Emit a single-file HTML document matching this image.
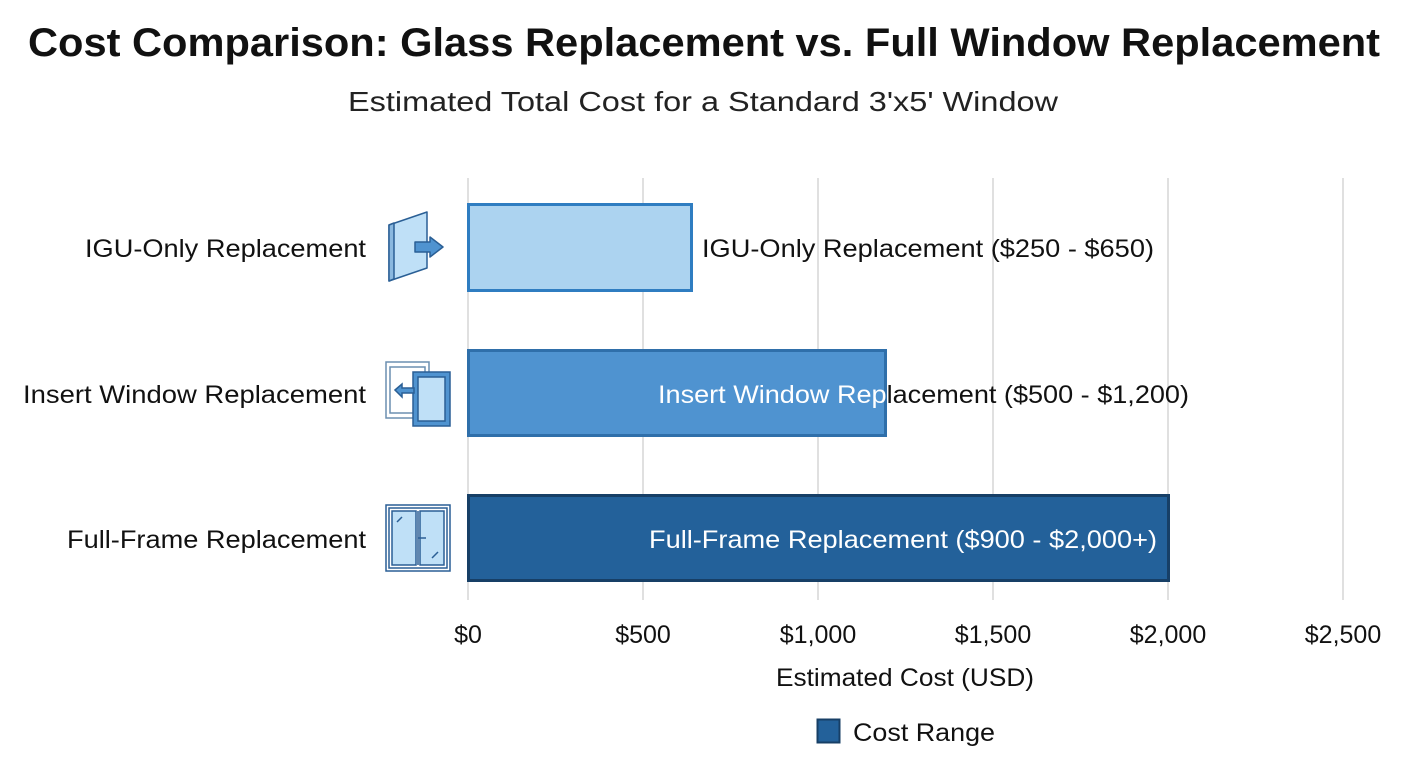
<!DOCTYPE html>
<html><head><meta charset="utf-8"><style>
body{margin:0;width:1408px;height:768px;background:#fff;overflow:hidden;font-family:"Liberation Sans","DejaVu Sans",sans-serif;}
</style></head><body>
<svg width="1408" height="768" xmlns="http://www.w3.org/2000/svg" font-family="Liberation Sans, DejaVu Sans, sans-serif">
<text x="28" y="56" font-size="40" font-weight="bold" fill="#111" textLength="1352" lengthAdjust="spacingAndGlyphs">Cost Comparison: Glass Replacement vs. Full Window Replacement</text>
<text x="348" y="111" font-size="28" fill="#222" textLength="710" lengthAdjust="spacingAndGlyphs">Estimated Total Cost for a Standard 3'x5' Window</text>
<g stroke="#d6d6d6" stroke-width="1.5">
<line x1="468" y1="178" x2="468" y2="600"/><line x1="643" y1="178" x2="643" y2="600"/><line x1="818" y1="178" x2="818" y2="600"/>
<line x1="993" y1="178" x2="993" y2="600"/><line x1="1168" y1="178" x2="1168" y2="600"/><line x1="1343" y1="178" x2="1343" y2="600"/>
</g>
<rect x="468.5" y="204.5" width="223" height="86" fill="#acd3f0" stroke="#2f7dc1" stroke-width="3"/>
<rect x="468.5" y="350.5" width="417" height="85" fill="#4f93d0" stroke="#2f6faa" stroke-width="3"/>
<rect x="468.5" y="495.5" width="700" height="85" fill="#23619a" stroke="#173f66" stroke-width="3"/>
<g font-size="25">
<text x="702" y="257" fill="#111" textLength="452" lengthAdjust="spacingAndGlyphs">IGU-Only Replacement ($250 - $650)</text>
<text x="658" y="403" fill="#fff" textLength="531" lengthAdjust="spacingAndGlyphs">Insert Window Rep<tspan fill="#111">lacement ($500 - $1,200)</tspan></text>
<text x="649" y="548" fill="#fff" textLength="508" lengthAdjust="spacingAndGlyphs">Full-Frame Replacement ($900 - $2,000+)</text>
<g fill="#111">
<text x="85" y="257" textLength="281" lengthAdjust="spacingAndGlyphs">IGU-Only Replacement</text>
<text x="23" y="403" textLength="343" lengthAdjust="spacingAndGlyphs">Insert Window Replacement</text>
<text x="67" y="548" textLength="299" lengthAdjust="spacingAndGlyphs">Full-Frame Replacement</text>
</g>
<g text-anchor="middle" fill="#111">
<text x="468" y="643">$0</text><text x="643" y="643">$500</text><text x="818" y="643">$1,000</text>
<text x="993" y="643">$1,500</text><text x="1168" y="643">$2,000</text><text x="1343" y="643">$2,500</text>
</g>
<text x="776" y="686" fill="#111" textLength="258" lengthAdjust="spacingAndGlyphs">Estimated Cost (USD)</text>
<text x="853" y="741" fill="#111" textLength="142" lengthAdjust="spacingAndGlyphs">Cost Range</text>
</g>
<rect x="817.5" y="719.5" width="22" height="23" fill="#23619a" stroke="#173f66" stroke-width="2"/>
<!-- icon 1 -->
<g stroke="#2a5f95" stroke-width="1.5" stroke-linejoin="round">
<polygon points="389,225 427,212 427,268 389,281" fill="#bfe0f7"/>
<polygon points="389,225 394,223 394,279 389,281" fill="#8ab8df"/>
<polygon points="415,242 430,242 430,237 443,247 430,257 430,252 415,252" fill="#4f93d0"/>
</g>
<!-- icon 2 -->
<g stroke="#2a5f95" stroke-width="1.5">
<rect x="386" y="362" width="43" height="56" fill="#fff" stroke="#6c8fb0"/>
<rect x="390" y="367" width="35" height="46" fill="none" stroke="#6c8fb0"/>
<rect x="413" y="372" width="37" height="54" fill="#4f93d0"/>
<rect x="418" y="377" width="27" height="44" fill="#bfe0f7"/>
<polygon points="395,390 402,384 402,388 414,388 414,393 402,393 402,397" fill="#4f93d0"/>
</g>
<!-- icon 3 -->
<g stroke="#2a5f95" stroke-width="1.5" fill="none">
<rect x="386" y="505" width="64" height="66" fill="#fff"/>
<rect x="389" y="508" width="58" height="60"/>
<rect x="392" y="511" width="24" height="54" fill="#bfe0f7"/>
<rect x="420" y="511" width="24" height="54" fill="#bfe0f7"/>
<line x1="418" y1="511" x2="418" y2="565"/>
<line x1="397" y1="522" x2="402" y2="517"/><line x1="432" y1="558" x2="438" y2="552"/>
<line x1="418" y1="538" x2="426" y2="538"/>
</g>
</svg>
</body></html>
